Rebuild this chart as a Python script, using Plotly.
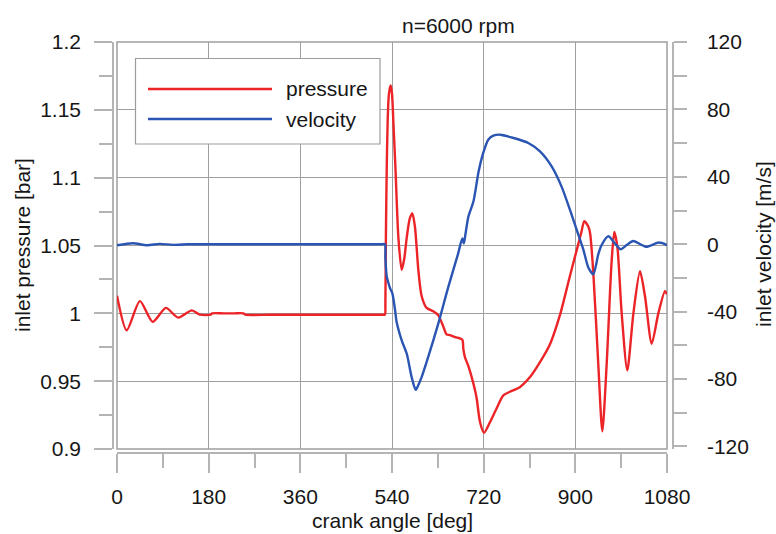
import plotly.graph_objects as go

# ---- data -------------------------------------------------------------
# inlet pressure [bar] versus crank angle [deg]
p_theta = [0, 19, 45, 70, 96, 120, 147, 163, 184, 187, 210, 230, 248, 252, 300, 350,
           400, 450, 500, 520, 526, 527, 528,
           529.6, 531.5, 534, 537.4, 540, 542.6, 547, 552.5, 559, 564, 569, 575,
           580, 585, 591.7, 598, 608, 621, 631, 641, 647, 654, 664, 678, 680, 683,
           690, 700, 706, 713, 720.7, 732, 745.5, 758.6, 771.7, 791, 811, 830.6,
           850, 870, 889, 903, 912, 917.6, 925.5, 929, 935.3, 945, 953, 961.6,
           971, 976.5, 982.5, 991, 1002, 1014, 1027, 1037, 1050, 1063, 1076, 1080]
pressure = [1.013, 0.9875, 1.009, 0.9937, 1.004, 0.9968, 1.0022, 0.999, 0.999, 1.0,
            1.0, 1.0, 1.0, 0.999, 0.999, 0.999, 0.999, 0.999, 0.999, 0.999,
            0.999, 1.007, 1.056, 1.105, 1.142, 1.162, 1.168, 1.162,
            1.142, 1.105, 1.056, 1.032, 1.040, 1.056, 1.070, 1.0736, 1.064, 1.032,
            1.013, 1.0040, 1.0015, 0.9985, 0.990, 0.9845, 0.9840, 0.9825, 0.9806,
            0.974, 0.968, 0.961, 0.9480, 0.938, 0.9195, 0.912, 0.9195, 0.9300,
            0.9395, 0.9422, 0.9456, 0.9530, 0.9640, 0.977, 0.999, 1.027, 1.047,
            1.060, 1.068, 1.064, 1.059, 1.030, 0.963, 0.9130, 0.963, 1.0366, 1.060,
            1.049, 1.000, 0.958, 1.000, 1.031, 1.012, 0.9776, 1.000, 1.0164, 1.014]

# inlet velocity [m/s] versus crank angle [deg]
v_theta = [0, 31, 59, 84, 110, 140, 170, 200, 260, 320, 380, 440, 500, 520, 526, 527,
           529.6, 533, 536, 540.6, 546, 549,
           559, 569, 578.7, 586.5, 591.7, 598, 611, 631, 650.6, 670, 678, 681, 684,
           690, 700, 710, 719, 729, 739, 752.6, 778, 807.6, 830.6, 853.5, 873,
           889.5, 902.7, 915.6, 925.5, 935.3, 945, 951.6, 964.7, 977.8, 989, 1000.8,
           1014, 1038.7, 1064, 1080]
velocity = [-0.6, 0.6, -0.6, 0.2, -0.4, 0.0, 0.0, 0.0, 0.0, 0.0, 0.0, 0.0, 0.0, 0.0,
            0.0, -8, -19, -23, -26, -29, -39, -46,
            -57, -65, -79, -86.4, -83.5, -79, -67, -47, -25.3, -5.4, 3.5, 0.5, 5.5,
            16.4, 25.5, 43, 54, 62, 64.4, 65, 63.1, 60.1, 55.1, 46.2, 34.2, 20.4,
            8.5, -3, -13.8, -17.8, -6, -0.5, 4.7, 0.5, -3, -0.5, 1.9, -1.5, 1.0, -0.5]

x_ticks = [0, 180, 360, 540, 720, 900, 1080]
p_ticks = [0.9, 0.95, 1.0, 1.05, 1.1, 1.15, 1.2]
p_tick_labels = ["0.9", "0.95", "1", "1.05", "1.1", "1.15", "1.2"]
v_ticks = [-120, -80, -40, 0, 40, 80, 120]
v_tick_labels = ["-120", "-80", "-40", "0", "40", "80", "120"]

series_names = ["pressure", "velocity"]
series_colors = ["#ec2327", "#2b55b3"]

# ---- styling ----------------------------------------------------------
W, H = 776, 534
FONT = "Liberation Sans, Arial, Helvetica, sans-serif"
TXT = "#161616"
GRID = "#9f9f9f"
AXIS = "#b4b4b4"
FS = 21
LW = 2.4


def fx(px):
    return px / W


def fy(py):
    return 1 - py / H


fig = go.Figure()
fig.add_trace(go.Scatter(x=p_theta, y=pressure, mode="lines", name=series_names[0],
                         line=dict(color=series_colors[0], width=LW, shape="spline",
                                   smoothing=0.7),
                         xaxis="x", yaxis="y", showlegend=False))
fig.add_trace(go.Scatter(x=v_theta, y=velocity, mode="lines", name=series_names[1],
                         line=dict(color=series_colors[1], width=LW, shape="spline",
                                   smoothing=0.7),
                         xaxis="x", yaxis="y2", showlegend=False))

plot_x0, plot_x1 = 117, 667
plot_y0, plot_y1 = 42, 449

fig.update_layout(
    width=W, height=H, autosize=False,
    margin=dict(l=0, r=0, t=0, b=0, pad=0),
    paper_bgcolor="white", plot_bgcolor="white",
    font=dict(family=FONT, size=FS, color=TXT),
    showlegend=False,
    xaxis=dict(
        domain=[fx(plot_x0), fx(plot_x1)], range=[0, 1080],
        anchor="free", position=fy(453),
        showline=True, linecolor=AXIS, linewidth=1.5,
        tickmode="array", tickvals=x_ticks,
        ticks="outside", ticklen=19, tickwidth=1.5, tickcolor=AXIS,
        minor=dict(dtick=90, tick0=0, ticks="outside", ticklen=14, tickwidth=1.5,
                   tickcolor=AXIS, showgrid=False),
        showgrid=True, gridcolor=GRID, gridwidth=1, zeroline=False,
        tickfont=dict(size=FS, color=TXT), ticklabelstandoff=6,
        automargin=False, fixedrange=True,
    ),
    yaxis=dict(
        domain=[fy(plot_y1), fy(plot_y0)], range=[0.9, 1.2],
        anchor="free", position=fx(113),
        showline=True, linecolor=AXIS, linewidth=1.5,
        tickmode="array", tickvals=p_ticks, ticktext=p_tick_labels,
        ticks="outside", ticklen=18, tickwidth=1.5, tickcolor=AXIS,
        minor=dict(dtick=0.025, tick0=0.9, ticks="outside", ticklen=13, tickwidth=1.5,
                   tickcolor=AXIS, showgrid=False),
        showgrid=True, gridcolor=GRID, gridwidth=1, zeroline=False,
        tickfont=dict(size=FS, color=TXT), ticklabelstandoff=9,
        automargin=False, fixedrange=True,
    ),
    yaxis2=dict(
        overlaying="y", side="right", range=[-121.5, 120],
        anchor="free", position=fx(673),
        showline=True, linecolor=AXIS, linewidth=1.5,
        tickmode="array", tickvals=v_ticks, ticktext=v_tick_labels,
        ticks="outside", ticklen=13, tickwidth=1.5, tickcolor=AXIS,
        minor=dict(dtick=20, tick0=-120, ticks="outside", ticklen=13, tickwidth=1.5,
                   tickcolor=AXIS, showgrid=False),
        showgrid=False, zeroline=False,
        tickfont=dict(size=FS, color=TXT), ticklabelstandoff=16,
        automargin=False, fixedrange=True,
    ),
)

shapes = [
    # plot frame
    dict(type="rect", xref="x domain", yref="y domain", x0=0, x1=1, y0=0, y1=1,
         line=dict(color=GRID, width=1.5), layer="below"),
    # legend box
    dict(type="rect", xref="paper", yref="paper",
         x0=fx(135.5), x1=fx(380), y0=fy(144), y1=fy(58.5),
         fillcolor="white", line=dict(color="#9c9c9c", width=1.2), layer="above"),
]
annotations = [
    dict(text="n=6000 rpm", x=fx(458), y=fy(25), xref="paper", yref="paper",
         showarrow=False, xanchor="center", yanchor="middle", font=dict(size=FS)),
    dict(text="crank angle [deg]", x=fx(392), y=fy(520), xref="paper", yref="paper",
         showarrow=False, xanchor="center", yanchor="middle", font=dict(size=FS)),
    dict(text="inlet pressure [bar]", x=fx(22), y=fy(245), xref="paper", yref="paper",
         showarrow=False, xanchor="center", yanchor="middle", textangle=-90,
         font=dict(size=FS)),
    dict(text="inlet velocity [m/s]", x=fx(763), y=fy(244), xref="paper", yref="paper",
         showarrow=False, xanchor="center", yanchor="middle", textangle=-90,
         font=dict(size=FS)),
]

# legend entries
for i, (name, color) in enumerate(zip(series_names, series_colors)):
    ly = 89 + 30 * i
    shapes.append(dict(type="line", xref="paper", yref="paper",
                       x0=fx(148), x1=fx(272), y0=fy(ly), y1=fy(ly),
                       line=dict(color=color, width=LW), layer="above"))
    annotations.append(dict(text=name, x=fx(284), y=fy(ly), xref="paper", yref="paper",
                            showarrow=False, xanchor="left", yanchor="middle",
                            font=dict(size=FS)))

fig.update_layout(shapes=shapes, annotations=annotations)

fig.write_html("out.html")
